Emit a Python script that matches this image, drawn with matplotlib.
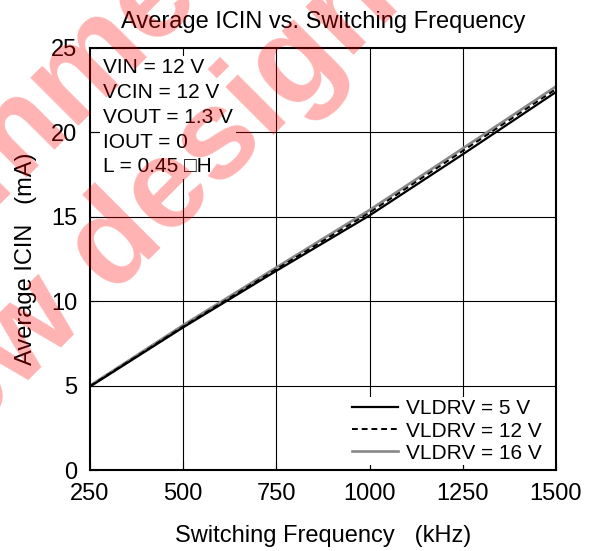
import matplotlib
matplotlib.use("Agg")
import matplotlib.pyplot as plt

# data
freq_khz = [250, 500, 750, 1000, 1250, 1500]
icin_5v = [4.94, 8.45, 11.8, 15.08, 18.7, 22.39]
icin_12v = [4.97, 8.5, 11.9, 15.25, 18.9, 22.56]
icin_16v = [5.0, 8.58, 12.0, 15.4, 19.05, 22.72]
series_labels = ["VLDRV = 5 V", "VLDRV = 12 V", "VLDRV = 16 V"]
conditions = ["VIN = 12 V", "VCIN = 12 V", "VOUT = 1.3 V", "IOUT = 0", "L = 0.45 \u25a1H"]
x_ticks = [250, 500, 750, 1000, 1250, 1500]
y_ticks = [0, 5, 10, 15, 20, 25]

plt.rcParams['font.family'] = ['Liberation Sans', 'DejaVu Sans']

fig = plt.figure(figsize=(5.93, 5.51), dpi=100)
ax = fig.add_axes([0.1518, 0.147, 0.7858, 0.766])

for xt in x_ticks[1:-1]:
    ax.axvline(xt, color='black', lw=0.8, zorder=1)
for yt in y_ticks[1:-1]:
    ax.axhline(yt, color='black', lw=0.8, zorder=1)

ax.plot(freq_khz, icin_5v, color='black', lw=1.6, label=series_labels[0], zorder=3)
ax.plot(freq_khz, icin_12v, color='black', lw=1.4, dashes=(3, 2), label=series_labels[1], zorder=3)
ax.plot(freq_khz, icin_16v, color='#888888', lw=1.9, label=series_labels[2], zorder=2.5)

ax.set_xlim(250, 1500)
ax.set_ylim(0, 25)
ax.set_xticks(x_ticks)
ax.set_yticks(y_ticks)
ax.tick_params(direction='in', length=6, width=0.8, labelsize=17, pad=9)
for sp in ax.spines.values():
    sp.set_linewidth(1.5)

ax.set_title("Average ICIN vs. Switching Frequency", fontsize=17, pad=14)
ax.set_xlabel("Switching Frequency   (kHz)", fontsize=17, labelpad=15)
ax.set_ylabel("Average ICIN   (mA)", fontsize=17, labelpad=10)

ax.text(0.028, 0.975, "\n".join(conditions), transform=ax.transAxes, fontsize=15,
        va='top', ha='left', linespacing=1.38, zorder=4,
        bbox=dict(facecolor='white', edgecolor='none', pad=2))

leg = ax.legend(loc='lower right', bbox_to_anchor=(0.981, 0.005), fontsize=15, frameon=True,
                fancybox=False, edgecolor='none', framealpha=1, handlelength=2.2,
                handletextpad=0.4, labelspacing=0.15, borderaxespad=0.15, borderpad=0.1)
leg.set_zorder(5)

# watermark
fig.text(0.039, 0.670, "Not recommended", fontsize=92, fontweight='bold', color='red',
         alpha=0.3, rotation=45, rotation_mode='anchor', ha='center', va='baseline')
fig.text(0.142, 0.412, "for new design", fontsize=92, fontweight='bold', color='red',
         alpha=0.3, rotation=45, rotation_mode='anchor', ha='center', va='baseline')

fig.savefig("out.png", dpi=100)
